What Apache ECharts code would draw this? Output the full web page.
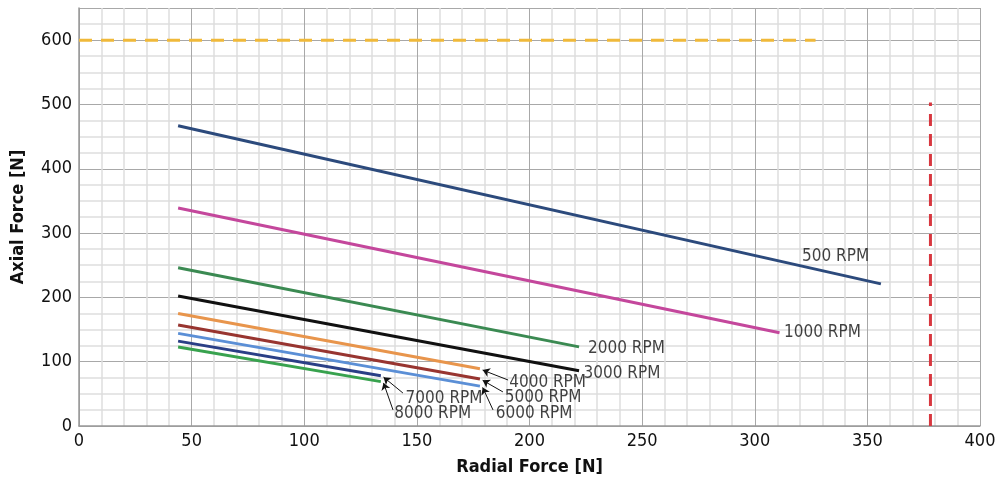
<!DOCTYPE html>
<html>
<head>
<meta charset="utf-8">
<script src="https://cdn.jsdelivr.net/npm/echarts@6/dist/echarts.min.js"></script>
<style>
  html, body { margin: 0; padding: 0; background: #fff; }
  #chart { width: 998px; height: 482px; }
</style>
</head>
<body>
<div id="chart"></div>
<script>
  // 曲线数据
  var rpmNames = ['500 RPM', '1000 RPM', '2000 RPM', '3000 RPM', '4000 RPM', '5000 RPM', '6000 RPM', '7000 RPM', '8000 RPM'];
  var xStart = [44, 44, 44, 44, 44, 44, 44, 44, 44];
  var yStart = [467, 339, 246, 202, 175, 157, 144, 132, 123];
  var xEnd = [356, 311, 222, 222, 178, 178, 178, 134, 134];
  var yEnd = [221, 145, 123, 86, 89, 73, 62, 78, 69];
  var colors = ['#2c4a7c', '#c4479c', '#3b8a52', '#111111', '#e8954c', '#983530', '#5b8fd6', '#2a3f86', '#38a24e'];

  // 极限线
  var axialLimit = 600, axialLimitXEnd = 327;
  var radialLimit = 378, radialLimitYEnd = 503;

  // 标注文字位置 [x, y]
  var labelPos = [[321, 263], [313, 145], [226, 120], [224, 82], [191, 67], [189, 44], [185, 20], [145, 42], [140, 19]];
  // 箭头起点（只有 4000 ~ 8000 有箭头）
  var arrowFrom = [null, null, null, null, [190.5, 71.5], [188.2, 53], [183.8, 25], [143.8, 51.3], [139.4, 25]];

  var font = "'Liberation Sans Narrow', 'DejaVu Sans Condensed', 'Roboto', sans-serif";

  var series = [];
  for (var i = 0; i < rpmNames.length; i++) {
    series.push({
      name: rpmNames[i],
      type: 'line',
      symbol: 'none',
      data: [[xStart[i], yStart[i]], [xEnd[i], yEnd[i]]],
      lineStyle: { color: colors[i], width: 3 },
      z: 5
    });
  }
  series.push({
    name: 'axial',
    type: 'line',
    symbol: 'none',
    data: [[0, axialLimit], [axialLimitXEnd, axialLimit]],
    lineStyle: { color: '#f0b93a', width: 3, type: [13, 9] },
    z: 4
  });
  series.push({
    name: 'radial',
    type: 'line',
    symbol: 'none',
    data: [[radialLimit, 0], [radialLimit, radialLimitYEnd]],
    lineStyle: { color: '#d8373f', width: 3, type: [12, 8] },
    z: 4
  });

  var arrows = [];
  var labelData = [];
  for (var j = 0; j < rpmNames.length; j++) {
    labelData.push({ value: labelPos[j], name: rpmNames[j] });
    if (arrowFrom[j]) {
      arrows.push([{ coord: arrowFrom[j] }, { coord: [xEnd[j] + 1.2, yEnd[j] - 2] }]);
    }
  }
  series.push({
    name: 'labels',
    type: 'scatter',
    symbolSize: 0,
    data: labelData,
    label: {
      show: true,
      position: 'right',
      distance: 0,
      formatter: '{b}',
      color: '#111',
      fontSize: 17,
      fontFamily: font
    },
    markLine: {
      silent: true,
      symbol: ['none', 'arrow'],
      symbolSize: 7,
      label: { show: false },
      lineStyle: { color: '#111', width: 1, type: 'solid' },
      data: arrows
    },
    z: 6
  });

  var myChart = echarts.init(document.getElementById('chart'));
  myChart.setOption({
    animation: false,
    grid: { left: 79, right: 18, top: 8, bottom: 56, containLabel: false, outerBoundsMode: 'none' },
    xAxis: {
      type: 'value',
      min: 0,
      max: 400,
      interval: 50,
      name: 'Radial Force [N]',
      nameLocation: 'middle',
      nameGap: 32,
      nameTextStyle: { fontSize: 18, fontWeight: 'bold', color: '#111', fontFamily: font },
      axisLine: { show: true, lineStyle: { color: '#999', width: 1.5 } },
      axisTick: { show: false },
      axisLabel: { fontSize: 18, color: '#111', margin: 6, fontFamily: font },
      splitLine: { show: true, lineStyle: { color: '#a8a8a8', width: 1 } },
      minorTick: { show: false, splitNumber: 5 },
      minorSplitLine: { show: true, lineStyle: { color: '#dedede', width: 1.5 } }
    },
    yAxis: {
      type: 'value',
      min: 0,
      max: 650,
      interval: 100,
      name: 'Axial Force [N]',
      nameLocation: 'middle',
      nameGap: 52,
      nameTextStyle: { fontSize: 18, fontWeight: 'bold', color: '#111', fontFamily: font },
      axisLine: { show: true, lineStyle: { color: '#999', width: 1.5 } },
      axisTick: { show: false },
      axisLabel: { fontSize: 18, color: '#111', margin: 7, showMaxLabel: false, fontFamily: font },
      splitLine: { show: true, lineStyle: { color: '#a8a8a8', width: 1 } },
      minorTick: { show: false, splitNumber: 4 },
      minorSplitLine: { show: true, lineStyle: { color: '#dedede', width: 1.5 } }
    },
    series: series
  });
</script>
</body>
</html>
